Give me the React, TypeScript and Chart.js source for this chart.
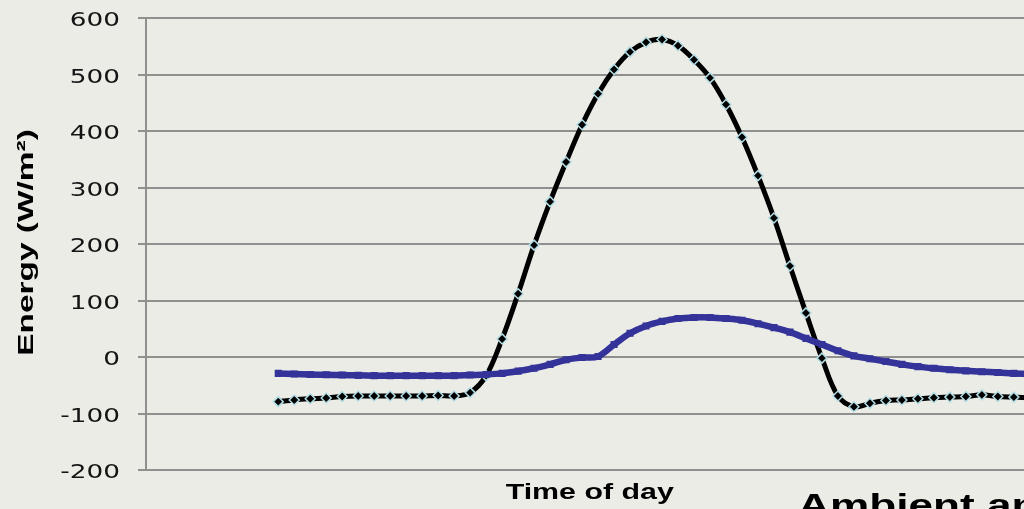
import { useEffect, useRef } from 'react';
import { Chart, registerables } from 'chart.js';

Chart.register(...registerables);

const BG = '#ecece7';
const GRID = '#8f8f8f';
const SOLAR_COLOR = '#000000';
const SOLAR_MARKER_EDGE = '#b3dde4';
const AMBIENT_COLOR = '#333399';

const yTickValues = [-200, -100, 0, 100, 200, 300, 400, 500, 600];
const yTickLabels = ['-200', '-100', '0', '100', '200', '300', '400', '500', '600'];

const xTitle = 'Time of day';
const yTitle = 'Energy (W/m²)';
const slideTitle = 'Ambient and';

// Solar (black, diamond markers)
const solarValues = [
  -79, -76, -74, -72.5, -70, -69, -69, -69, -69, -69, -68, -69,
  -63, -33, 32, 112, 198, 275, 345, 411, 466, 509, 540, 557,
  562, 551, 526, 494, 447, 389, 321, 246, 161, 78, -2, -69,
  -88, -82, -77, -76, -74, -72, -71, -70, -67, -70, -71, -72,
];

// Ambient (blue, square markers)
const ambientValues = [
  -29, -30, -31, -31.5, -32, -32.5, -33, -33, -33, -33, -33, -33,
  -32, -31, -29, -25, -20, -13, -5, -1, 1, 22, 42, 55,
  63, 68, 70, 70, 68, 65, 59, 52, 44, 33, 22, 11,
  2, -3, -8, -13, -17, -20, -22.5, -24.5, -26, -27.5, -29, -30,
];

const X_MIN = -8.27;
const X_MAX = 47.23;

const textPlugin = {
  id: 'stretchedText',
  afterDraw(chart: any) {
    const { ctx, chartArea } = chart;
    const yScale = chart.scales.y;
    ctx.save();

    // y tick labels
    ctx.fillStyle = '#141414';
    ctx.textAlign = 'right';
    ctx.textBaseline = 'alphabetic';
    ctx.font = '19.5px "DejaVu Sans"';
    yTickValues.forEach((v, i) => {
      const py = yScale.getPixelForValue(v);
      ctx.save();
      ctx.translate(chartArea.left - 26, py + 8.3);
      ctx.scale(1.35, 1);
      ctx.fillText(yTickLabels[i], 0, 0);
      ctx.restore();
    });

    // x title
    ctx.fillStyle = '#000000';
    ctx.font = 'bold 22px "Liberation Sans"';
    ctx.textAlign = 'center';
    ctx.save();
    ctx.translate((chartArea.left + chartArea.right) / 2, chartArea.bottom + 28.5);
    ctx.scale(1.38, 1);
    ctx.fillText(xTitle, 0, 0);
    ctx.restore();

    // y title
    ctx.save();
    ctx.translate(32.5, (chartArea.top + chartArea.bottom) / 2 - 1.5);
    ctx.rotate(-Math.PI / 2);
    ctx.scale(1.52, 1);
    ctx.font = 'bold 22px "Liberation Sans"';
    ctx.textAlign = 'center';
    ctx.fillText(yTitle, 0, 0);
    ctx.restore();

    // slide title (cut off at bottom right)
    ctx.save();
    ctx.translate(798, 516);
    ctx.scale(1.38, 1);
    ctx.textAlign = 'left';
    ctx.font = 'bold 32px "Liberation Sans"';
    ctx.fillText(slideTitle, 0, 0);
    ctx.restore();

    ctx.restore();
  },
};

export default function App() {
  const ref = useRef<HTMLCanvasElement>(null);

  useEffect(() => {
    const canvas = ref.current;
    if (!canvas) return;
    const chart = new Chart(canvas, {
      type: 'line',
      data: {
        datasets: [
          {
            label: 'Ambient',
            data: ambientValues.map((v, i) => ({ x: i, y: v })),
            borderColor: AMBIENT_COLOR,
            backgroundColor: AMBIENT_COLOR,
            borderWidth: 6.5,
            pointStyle: 'rect',
            pointRadius: 5,
            pointBorderWidth: 0,
            pointBackgroundColor: AMBIENT_COLOR,
            tension: 0.35,
            order: 1,
          },
          {
            label: 'Solar',
            data: solarValues.map((v, i) => ({ x: i, y: v })),
            borderColor: SOLAR_COLOR,
            backgroundColor: SOLAR_COLOR,
            borderWidth: 5,
            pointStyle: 'rectRot',
            pointRadius: 5,
            pointBorderWidth: 1.5,
            pointBorderColor: SOLAR_MARKER_EDGE,
            pointBackgroundColor: SOLAR_COLOR,
            tension: 0.35,
            order: 2,
          },
        ],
      },
      options: {
        animation: false,
        responsive: false,
        events: [],
        layout: { padding: { left: 0, right: 6, top: 18, bottom: 39 } },
        plugins: {
          legend: { display: false },
          tooltip: { enabled: false },
          title: { display: false },
        },
        scales: {
          x: {
            type: 'linear',
            min: X_MIN,
            max: X_MAX,
            display: false,
          },
          y: {
            min: -200,
            max: 600,
            afterBuildTicks: (s: any) => {
              s.ticks = yTickValues.map((v) => ({ value: v }));
            },
            afterFit: (s: any) => {
              s.width = 146;
            },
            ticks: { display: false },
            grid: { color: GRID, lineWidth: 2, tickLength: 8, drawTicks: true },
            border: { display: true, color: GRID, width: 2 },
            title: { display: false },
          },
        },
      },
      plugins: [textPlugin],
    } as any);
    return () => chart.destroy();
  }, []);

  return (
    <div
      style={{
        position: 'absolute',
        left: 0,
        top: 0,
        width: 1024,
        height: 509,
        overflow: 'hidden',
        background: BG,
      }}
    >
      <canvas ref={ref} width={1040} height={509} style={{ display: 'block' }} />
    </div>
  );
}
